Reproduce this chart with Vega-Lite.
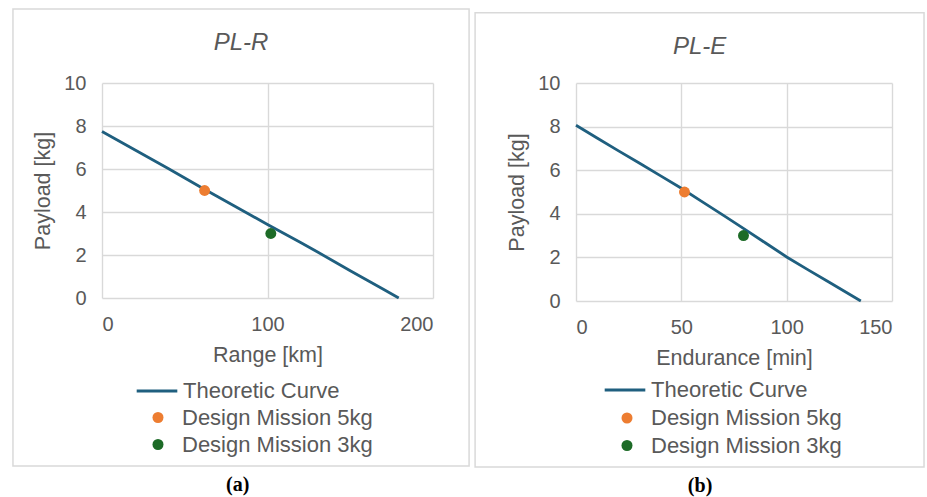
{
  "$schema": "https://vega.github.io/schema/vega-lite/v6.json",
  "background": "white",
  "padding": {"left": 12, "top": 8, "right": 0, "bottom": 0},
  "spacing": 143,
  "bounds": "flush",
  "resolve": {
    "scale": {"color": "independent", "stroke": "independent", "x": "independent", "y": "independent"},
    "legend": {"color": "independent", "stroke": "independent"}
  },
  "config": {
    "font": "Liberation Sans",
    "view": {"stroke": null},
    "axis": {
      "domain": false,
      "ticks": false,
      "grid": true,
      "gridColor": "#d9d9d9",
      "gridWidth": 1.4,
      "labelFont": "Liberation Sans",
      "labelFontSize": 20,
      "labelColor": "#595959",
      "titleFont": "Liberation Sans",
      "titleFontSize": 21.5,
      "titleFontWeight": "normal",
      "titleColor": "#595959"
    },
    "axisX": {"labelPadding": 16, "titlePadding": 10},
    "axisY": {"labelPadding": 16, "titlePadding": 9},
    "legend": {
      "labelFont": "Liberation Sans",
      "labelFontSize": 22,
      "labelColor": "#595959",
      "labelLimit": 400,
      "symbolSize": 121,
      "labelOffset": 13,
      "rowPadding": 5,
      "symbolStrokeWidth": 3,
      "symbolOpacity": 1
    },
    "title": {"font": "Liberation Sans", "fontSize": 24, "fontWeight": "normal", "fontStyle": "italic", "color": "#595959", "anchor": "middle", "frame": "bounds", "offset": -47}
  },
  "hconcat": [
    {
      "width": 331,
      "height": 215,
      "title": {"text": "PL-R"},
      "layer": [
        {
          "data": {"values": [{}]},
          "mark": {"type": "rect", "fill": "white", "fillOpacity": 0, "stroke": "#d9d9d9", "strokeWidth": 1.5, "clip": false},
          "encoding": {
            "x": {"datum": -53.8, "type": "quantitative"},
            "x2": {"datum": 221.8},
            "y": {"datum": 13.44, "type": "quantitative"},
            "y2": {"datum": -7.81}
          }
        },
        {
          "data": {"values": [
            {"range": 0, "payload": 7.74, "series": "Theoretic Curve"}, {"range": 10, "payload": 7.31, "series": "Theoretic Curve"},
            {"range": 20, "payload": 6.88, "series": "Theoretic Curve"}, {"range": 30, "payload": 6.45, "series": "Theoretic Curve"},
            {"range": 40, "payload": 6.02, "series": "Theoretic Curve"}, {"range": 50, "payload": 5.58, "series": "Theoretic Curve"},
            {"range": 60, "payload": 5.14, "series": "Theoretic Curve"}, {"range": 70, "payload": 4.71, "series": "Theoretic Curve"},
            {"range": 80, "payload": 4.28, "series": "Theoretic Curve"}, {"range": 90, "payload": 3.85, "series": "Theoretic Curve"},
            {"range": 100, "payload": 3.42, "series": "Theoretic Curve"}, {"range": 110, "payload": 3.0, "series": "Theoretic Curve"},
            {"range": 120, "payload": 2.58, "series": "Theoretic Curve"}, {"range": 130, "payload": 2.15, "series": "Theoretic Curve"},
            {"range": 140, "payload": 1.71, "series": "Theoretic Curve"}, {"range": 150, "payload": 1.27, "series": "Theoretic Curve"},
            {"range": 160, "payload": 0.84, "series": "Theoretic Curve"}, {"range": 170, "payload": 0.41, "series": "Theoretic Curve"},
            {"range": 179.3, "payload": 0, "series": "Theoretic Curve"}
          ]},
          "mark": {"type": "line", "strokeWidth": 2.8},
          "encoding": {
            "x": {"field": "range", "type": "quantitative", "scale": {"domain": [0, 200], "nice": false}, "axis": {"values": [0, 100, 200], "title": "Range [km]"}},
            "y": {"field": "payload", "type": "quantitative", "scale": {"domain": [0, 10], "nice": false}, "axis": {"values": [0, 2, 4, 6, 8, 10], "title": "Payload [kg]"}},
            "stroke": {
              "field": "series", "type": "nominal",
              "scale": {"domain": ["Theoretic Curve"], "range": ["#1F5F7F"]},
              "legend": {"title": null, "orient": "none", "direction": "vertical", "legendX": 33, "legendY": 286, "symbolSize": 1650, "symbolType": "stroke", "symbolStrokeWidth": 3, "labelOffset": 4}
            }
          }
        },
        {
          "data": {"values": [
            {"range": 62, "payload": 5, "series": "Design Mission 5kg"},
            {"range": 102, "payload": 3, "series": "Design Mission 3kg"}
          ]},
          "mark": {"type": "point", "filled": true, "opacity": 1, "size": 120},
          "encoding": {
            "x": {"field": "range", "type": "quantitative"},
            "y": {"field": "payload", "type": "quantitative"},
            "color": {
              "field": "series", "type": "nominal",
              "scale": {"domain": ["Design Mission 5kg", "Design Mission 3kg"], "range": ["#ED7D31", "#1D6B27"]},
              "legend": {"title": null, "orient": "none", "direction": "vertical", "legendX": 45, "legendY": 323.5, "symbolType": "circle"}
            }
          }
        },
        {
          "data": {"values": [{"caption": "(a)"}]},
          "mark": {"type": "text", "font": "Liberation Serif", "fontSize": 20, "fontWeight": "bold", "color": "#000000", "clip": false},
          "encoding": {
            "text": {"field": "caption"},
            "x": {"datum": 82, "type": "quantitative"},
            "y": {"datum": -8.7, "type": "quantitative"}
          }
        }
      ]
    },
    {
      "width": 316,
      "height": 218,
      "title": {"text": "PL-E"},
      "layer": [
        {
          "data": {"values": [{}]},
          "mark": {"type": "rect", "fill": "white", "fillOpacity": 0, "stroke": "#d9d9d9", "strokeWidth": 1.5, "clip": false},
          "encoding": {
            "x": {"datum": -47.9, "type": "quantitative"},
            "x2": {"datum": 165.2},
            "y": {"datum": 13.22, "type": "quantitative"},
            "y2": {"datum": -7.62}
          }
        },
        {
          "data": {"values": [
            {"endurance": 0, "payload": 8.06, "series": "Theoretic Curve"}, {"endurance": 10, "payload": 7.48, "series": "Theoretic Curve"},
            {"endurance": 20, "payload": 6.9, "series": "Theoretic Curve"}, {"endurance": 30, "payload": 6.33, "series": "Theoretic Curve"},
            {"endurance": 40, "payload": 5.75, "series": "Theoretic Curve"}, {"endurance": 50, "payload": 5.17, "series": "Theoretic Curve"},
            {"endurance": 60, "payload": 4.55, "series": "Theoretic Curve"}, {"endurance": 70, "payload": 3.93, "series": "Theoretic Curve"},
            {"endurance": 80, "payload": 3.3, "series": "Theoretic Curve"}, {"endurance": 90, "payload": 2.66, "series": "Theoretic Curve"},
            {"endurance": 100, "payload": 2.02, "series": "Theoretic Curve"}, {"endurance": 110, "payload": 1.44, "series": "Theoretic Curve"},
            {"endurance": 120, "payload": 0.87, "series": "Theoretic Curve"}, {"endurance": 130, "payload": 0.3, "series": "Theoretic Curve"},
            {"endurance": 135.2, "payload": 0, "series": "Theoretic Curve"}
          ]},
          "mark": {"type": "line", "strokeWidth": 2.8},
          "encoding": {
            "x": {"field": "endurance", "type": "quantitative", "scale": {"domain": [0, 150], "nice": false}, "axis": {"values": [0, 50, 100, 150], "title": "Endurance  [min]"}},
            "y": {"field": "payload", "type": "quantitative", "scale": {"domain": [0, 10], "nice": false}, "axis": {"values": [0, 2, 4, 6, 8, 10], "title": "Payload [kg]"}},
            "stroke": {
              "field": "series", "type": "nominal",
              "scale": {"domain": ["Theoretic Curve"], "range": ["#1F5F7F"]},
              "legend": {"title": null, "orient": "none", "direction": "vertical", "legendX": 27, "legendY": 285, "symbolSize": 1650, "symbolType": "stroke", "symbolStrokeWidth": 3, "labelOffset": 4}
            }
          }
        },
        {
          "data": {"values": [
            {"endurance": 51.5, "payload": 5, "series": "Design Mission 5kg"},
            {"endurance": 79.5, "payload": 3, "series": "Design Mission 3kg"}
          ]},
          "mark": {"type": "point", "filled": true, "opacity": 1, "size": 120},
          "encoding": {
            "x": {"field": "endurance", "type": "quantitative"},
            "y": {"field": "payload", "type": "quantitative"},
            "color": {
              "field": "series", "type": "nominal",
              "scale": {"domain": ["Design Mission 5kg", "Design Mission 3kg"], "range": ["#ED7D31", "#1D6B27"]},
              "legend": {"title": null, "orient": "none", "direction": "vertical", "legendX": 40, "legendY": 324, "symbolType": "circle", "rowPadding": 5.5}
            }
          }
        },
        {
          "data": {"values": [{"caption": "(b)"}]},
          "mark": {"type": "text", "font": "Liberation Serif", "fontSize": 20, "fontWeight": "bold", "color": "#000000", "clip": false},
          "encoding": {
            "text": {"field": "caption"},
            "x": {"datum": 58.9, "type": "quantitative"},
            "y": {"datum": -8.5, "type": "quantitative"}
          }
        }
      ]
    }
  ]
}
